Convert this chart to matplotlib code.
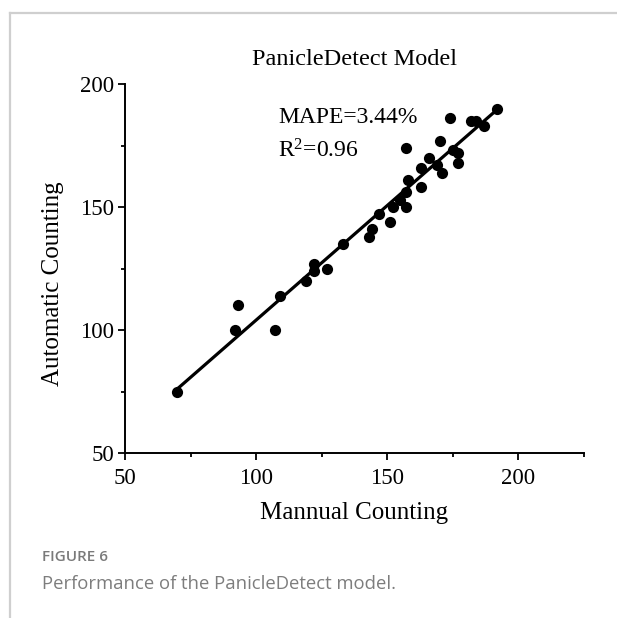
import numpy as np
import matplotlib
matplotlib.use("Agg")
import matplotlib.pyplot as plt
from matplotlib.lines import Line2D
from matplotlib.ticker import MultipleLocator

# Manual vs automatic panicle counts
manual = [70, 92, 93, 107, 109, 119, 122, 122, 127, 133, 143, 144, 147, 151,
          152, 155, 157, 157, 158, 163, 163, 166, 169, 171, 170, 157, 174, 175,
          177, 177, 182, 184, 187, 192]
automatic = [75, 100, 110, 100, 114, 120, 127, 124, 125, 135, 138, 141, 147, 144,
             150, 153, 150, 156, 161, 158, 166, 170, 167, 164, 177, 174, 186, 173,
             172, 168, 185, 185, 183, 190]
x_ticks = [50, 100, 150, 200]
y_ticks = [50, 100, 150, 200]
title = "PanicleDetect Model"
stats_text = ["MAPE=3.44%", "R$^{2}$=0.96"]

serif = ["Liberation Serif", "DejaVu Serif"]
plt.rcParams["mathtext.fontset"] = "custom"
plt.rcParams["mathtext.rm"] = "Liberation Serif"
plt.rcParams["mathtext.default"] = "regular"

fig = plt.figure(figsize=(6.17, 6.18), dpi=100)
ax = fig.add_axes([125 / 617, 1 - 453 / 618, (584 - 125) / 617, (453 - 84) / 618])

ax.scatter(manual, automatic, s=65, color="black", zorder=3, linewidths=0)

# linear fit line
coef = np.polyfit(manual, automatic, 1)
xs = np.array([min(manual), max(manual)])
ax.plot(xs, np.polyval(coef, xs), color="black", lw=2.3, zorder=2)

ax.set_xlim(50, 225)
ax.set_ylim(50, 200)
ax.set_xticks(x_ticks)
ax.set_yticks(y_ticks)
ax.xaxis.set_minor_locator(MultipleLocator(25))
ax.yaxis.set_minor_locator(MultipleLocator(25))
for s in ["top", "right"]:
    ax.spines[s].set_visible(False)
for s in ["left", "bottom"]:
    ax.spines[s].set_linewidth(1.4)
ax.tick_params(which="major", direction="out", length=5, width=1.3, labelsize=16.5)
ax.tick_params(axis="x", which="major", pad=6)
ax.tick_params(axis="y", which="major", pad=3)
ax.tick_params(which="minor", direction="out", length=3, width=1.3)
for lbl in ax.get_xticklabels() + ax.get_yticklabels():
    lbl.set_family(serif)

ax.set_xlabel("Mannual Counting", fontsize=18, family=serif, labelpad=9)
fig.text(53 / 617, 1 - 284 / 618, "Automatic Counting", rotation=90, fontsize=18,
         family=serif, ha="center", va="center")
ax.set_title(title, fontsize=17.5, family=serif, pad=14)

fig.text(278 / 617, 1 - 123 / 618, stats_text[0], fontsize=17, family=serif, va="baseline")
fig.text(278 / 617, 1 - 157 / 618, stats_text[1], fontsize=17, family=serif, va="baseline")

# page frame and caption
frame_color = "#cfcfcf"
fig.add_artist(Line2D([10 / 617, 1], [1 - 13 / 618, 1 - 13 / 618], color=frame_color, lw=1.6))
fig.add_artist(Line2D([10 / 617, 10 / 617], [0, 1 - 13 / 618], color=frame_color, lw=1.6))
fig.text(42 / 617, 1 - 557 / 618, "FIGURE 6", fontsize=11, family=["Open Sans", "DejaVu Sans"],
         fontweight="semibold", color="#7a7a7a", va="center")
fig.text(42 / 617, 1 - 584 / 618, "Performance of the PanicleDetect model.", fontsize=13.3,
         family=["Open Sans", "DejaVu Sans"], color="#7d7d7d", va="center")

fig.savefig("out.png", dpi=100)
